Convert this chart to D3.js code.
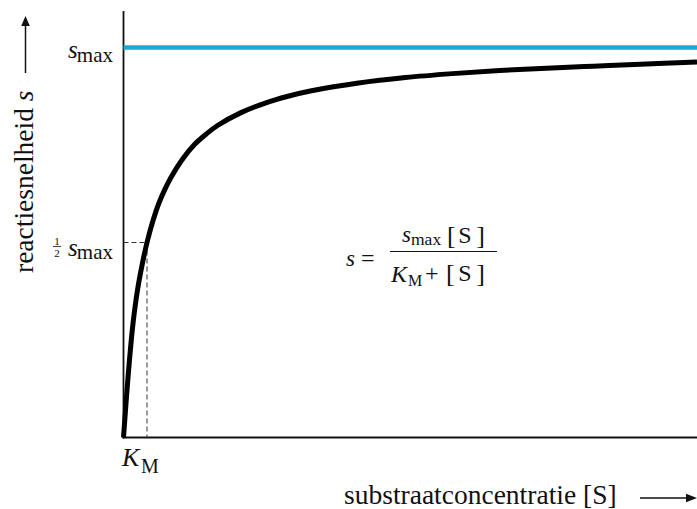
<!DOCTYPE html>
<html>
<head>
<meta charset="utf-8">
<script src="https://cdn.jsdelivr.net/npm/d3@7"></script>
<style>
  html, body { margin: 0; padding: 0; background: #fff; }
  svg { display: block; }
</style>
</head>
<body>
<svg id="chart" width="697" height="509" font-family="'Liberation Serif', 'Times New Roman', 'DejaVu Serif', serif"></svg>
<script>
// Data (concentration in units of K_M, rate as fraction of s_max)
const concentration = [0, 0.2, 0.4, 0.6, 0.8, 1.0, 1.25, 1.5, 1.75, 2.0, 2.5, 3.0, 3.5, 4.0, 5.0, 6.0, 7.0, 8.0, 10, 12, 14, 16, 18, 20, 22, 24.4];
const rate          = [0, 0.16, 0.29, 0.38, 0.445, 0.5, 0.555, 0.6, 0.635, 0.665, 0.713, 0.75, 0.777, 0.8, 0.833, 0.857, 0.875, 0.889, 0.909, 0.923, 0.933, 0.941, 0.947, 0.952, 0.957, 0.963];
const sMax = 1;
const KM = 1;
const xMax = 24.4;

const svg = d3.select("#chart");
const x = d3.scaleLinear().domain([0, xMax]).range([123.5, 697]);
const y = d3.scaleLinear().domain([0, sMax]).range([437.5, 47.5]);
const ink = "#111";

function txt(px, py, size, str, opts = {}) {
  const t = svg.append("text").attr("x", px).attr("y", py).attr("font-size", size).attr("fill", ink).text(str);
  if (opts.italic) t.attr("font-style", "italic");
  if (opts.anchor) t.attr("text-anchor", opts.anchor);
  return t;
}

// axes
svg.append("line").attr("x1", x(0)).attr("x2", x(0)).attr("y1", 11).attr("y2", y(0) + 1)
  .attr("stroke", ink).attr("stroke-width", 1.8);
svg.append("line").attr("x1", x(0) - 1).attr("x2", x(xMax)).attr("y1", y(0)).attr("y2", y(0))
  .attr("stroke", ink).attr("stroke-width", 1.8);

// s_max line
svg.append("line").attr("x1", x(0)).attr("x2", x(xMax)).attr("y1", y(sMax)).attr("y2", y(sMax))
  .attr("stroke", "#1ba9cf").attr("stroke-width", 4.5);

// dashed guides
svg.append("line").attr("x1", x(0)).attr("x2", x(KM)).attr("y1", y(sMax / 2)).attr("y2", y(sMax / 2))
  .attr("stroke", "#333").attr("stroke-width", 1).attr("stroke-dasharray", "5,3");
svg.append("line").attr("x1", x(KM)).attr("x2", x(KM)).attr("y1", y(sMax / 2)).attr("y2", y(0))
  .attr("stroke", "#333").attr("stroke-width", 1).attr("stroke-dasharray", "5,3");

// curve
const pts = concentration.map((c, i) => [c, rate[i]]);
const line = d3.line().x(d => x(d[0])).y(d => y(d[1])).curve(d3.curveCatmullRom.alpha(0.5));
svg.append("path").attr("d", line(pts)).attr("fill", "none")
  .attr("stroke", "#000").attr("stroke-width", 5).attr("stroke-linecap", "butt");

// y tick labels
txt(68, y(sMax) + 10.5, 25, "s", { italic: true });
txt(113, y(sMax) + 14, 21, "max", { anchor: "end" });

txt(68, y(sMax / 2) + 13, 25, "s", { italic: true });
txt(113, y(sMax / 2) + 16.5, 21, "max", { anchor: "end" });
txt(57, y(sMax / 2) + 2, 11, "1", { anchor: "middle" });
txt(57, y(sMax / 2) + 14, 11, "2", { anchor: "middle" });
svg.append("line").attr("x1", 53).attr("x2", 61).attr("y1", y(sMax / 2) + 4).attr("y2", y(sMax / 2) + 4)
  .attr("stroke", ink).attr("stroke-width", 0.8);

// K_M label
txt(122, 466, 26, "K", { italic: true });
txt(141, 473, 20, "M");

// x axis title
txt(344, 504, 27.5, "substraatconcentratie [S]");
svg.append("line").attr("x1", 640).attr("x2", 688).attr("y1", 498).attr("y2", 498).attr("stroke", ink).attr("stroke-width", 1.5);
svg.append("path").attr("d", "M697,498 L686,493.8 L686,502.2 Z").attr("fill", ink);

// y axis title
const yt = svg.append("text").attr("transform", "translate(33,273) rotate(-90)").attr("font-size", 27.5).attr("fill", ink);
yt.append("tspan").text("reactiesnelheid ");
yt.append("tspan").attr("font-style", "italic").text("s");
svg.append("line").attr("x1", 25.5).attr("x2", 25.5).attr("y1", 73).attr("y2", 24).attr("stroke", ink).attr("stroke-width", 1.5);
svg.append("path").attr("d", "M25.5,16 L21.2,26 L29.8,26 Z").attr("fill", ink);

// formula
txt(346, 265.5, 23, "s", { italic: true });
txt(361, 265.5, 24, "=");
svg.append("line").attr("x1", 390).attr("x2", 497).attr("y1", 251.5).attr("y2", 251.5).attr("stroke", ink).attr("stroke-width", 1.2);
// numerator
txt(402, 242, 23, "s", { italic: true });
txt(411, 245, 17.5, "max");
txt(447, 244, 26, "[");
txt(465, 243, 24, "S", { anchor: "middle" });
txt(485, 244, 26, "]", { anchor: "end" });
// denominator
txt(391, 282, 24, "K", { italic: true });
txt(408, 286, 16, "M");
txt(425, 281, 24, "+");
txt(446, 282, 26, "[");
txt(465, 281, 24, "S", { anchor: "middle" });
txt(485, 282, 26, "]", { anchor: "end" });
</script>
</body>
</html>
